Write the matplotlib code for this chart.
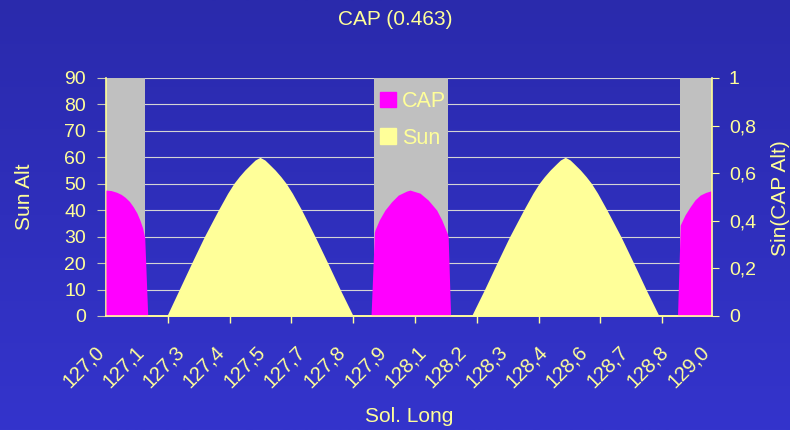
import numpy as np
import matplotlib.pyplot as plt
from matplotlib.patches import Patch
from matplotlib.colors import LinearSegmentedColormap
from matplotlib.transforms import ScaledTranslation

plt.rcParams['font.family'] = ['Liberation Sans', 'DejaVu Sans']

# 태양 고도 (Sun Alt) vs Sol. Long
sun_long = [127.000,
            127.201, 127.242, 127.283, 127.325, 127.371, 127.402, 127.423, 127.440, 127.459, 127.482, 127.493,
            127.509,
            127.525, 127.536, 127.559, 127.578, 127.595, 127.616, 127.647, 127.691, 127.733, 127.774, 127.817,
            128.208, 128.251, 128.292, 128.334, 128.380, 128.411, 128.432, 128.449, 128.468, 128.491, 128.502,
            128.518,
            128.534, 128.545, 128.568, 128.587, 128.604, 128.625, 128.656, 128.702, 128.744, 128.785, 128.828,
            129.003]
sun_alt = [0,
           0, 10, 20, 30, 40, 46.4, 50.2, 52.7, 55.2, 57.8, 59,
           60,
           59, 57.8, 55.2, 52.7, 50.2, 46.4, 40, 30, 20, 10, 0,
           0, 10, 20, 30, 40, 46.4, 50.2, 52.7, 55.2, 57.8, 59,
           60,
           59, 57.8, 55.2, 52.7, 50.2, 46.4, 40, 30, 20, 10, 0,
           0]

# CAP: sin(CAP 고도), 오른쪽 축
cap_long = [127.000, 127.017, 127.035, 127.050, 127.063, 127.077, 127.090, 127.102, 127.112, 127.121, 127.128, 127.138,
            127.876, 127.887, 127.889, 127.903, 127.922, 127.944, 127.966, 127.994, 128.005, 128.038, 128.065,
            128.093, 128.110, 128.128, 128.131, 128.139,
            128.889, 128.898, 128.914, 128.931, 128.947, 128.964, 128.982, 129.000, 129.003]
cap_sin = [0.529, 0.527, 0.520, 0.511, 0.499, 0.482, 0.459, 0.433, 0.403, 0.370, 0.329, 0.0,
           0.0, 0.350, 0.361, 0.403, 0.445, 0.480, 0.508, 0.525, 0.529, 0.516, 0.487,
           0.445, 0.403, 0.347, 0.333, 0.0,
           0.0, 0.382, 0.425, 0.459, 0.488, 0.508, 0.519, 0.526, 0.527]

# 어두운 구간 (회색 막대)
night_start = [127.000, 127.886, 128.898]
night_end = [127.129, 128.131, 129.003]

xtick_labels = ["127,0", "127,1", "127,3", "127,4", "127,5", "127,7", "127,8", "127,9",
                "128,1", "128,2", "128,3", "128,4", "128,6", "128,7", "128,8", "129,0"]
right_ticks = [0, 0.2, 0.4, 0.6, 0.8, 1.0]
right_labels = ["0", "0,2", "0,4", "0,6", "0,8", "1"]

TXT = '#FFFF99'
X_MIN, X_MAX = 127.0, 129.003
LABEL_STEP = 2 / 15
TICK_STEP = 0.2043

fig = plt.figure(figsize=(7.9, 4.3), dpi=100)

# 배경 그라데이션
bg = fig.add_axes([0, 0, 1, 1], zorder=-10)
grad = np.linspace(0, 1, 256).reshape(-1, 1)
bg.imshow(grad, aspect='auto', origin='upper', extent=[0, 1, 0, 1],
          cmap=LinearSegmentedColormap.from_list('bg', ['#2A2AAC', '#3434CC']))
bg.axis('off')

ax = fig.add_axes([106 / 790, 114 / 430, 606 / 790, 238 / 430])
ax.set_facecolor('none')
ax.set_xlim(X_MIN, X_MAX)
ax.set_ylim(0, 90)

ax.bar(night_start, 90, width=np.subtract(night_end, night_start), align='edge',
       color='#C0C0C0', linewidth=0, zorder=1)
ax.fill_between(sun_long, sun_alt, color='#FFFF99', linewidth=0, zorder=2)

ax.set_yticks(range(0, 91, 10))
ax.grid(axis='y', color='#D4D4D4', linewidth=0.8)
ax.set_axisbelow(True)

ax2 = ax.twinx()
ax2.set_ylim(0, 1)
ax2.fill_between(cap_long, cap_sin, color='#FF00FF', linewidth=0)
ax2.set_yticks(right_ticks)
ax2.set_yticklabels(right_labels)

for s in ['top', 'right']:
    ax.spines[s].set_visible(False)
for s in ['top', 'left']:
    ax2.spines[s].set_visible(False)
for a in (ax, ax2):
    for s in a.spines.values():
        s.set_color(TXT)
        s.set_linewidth(1.2)

ax.tick_params(axis='y', length=6.5, pad=7.9, labelsize=14, labelcolor=TXT, color='#C8C8B4')
ax2.tick_params(axis='y', length=5, pad=7.2, labelsize=14, labelcolor=TXT, color=TXT)

# x축: 라벨 위치와 눈금 위치가 다름
label_pos = [X_MIN + k * LABEL_STEP for k in range(len(xtick_labels))]
ax.set_xticks(label_pos)
ax.set_xticklabels(xtick_labels)
ax.set_xticks([X_MIN + m * TICK_STEP for m in range(10)], minor=True)
ax.tick_params(axis='x', which='major', length=0, pad=18.7, labelsize=14.5, labelcolor=TXT)
ax.tick_params(axis='x', which='minor', length=5, width=1, color=TXT)
shift = ScaledTranslation(-12 / 100, 0, fig.dpi_scale_trans)
for lab in ax.get_xticklabels():
    lab.set_rotation(45)
    lab.set_rotation_mode('anchor')
    lab.set_ha('right')
    lab.set_va('top')
    lab.set_transform(lab.get_transform() + shift)

fig.text(395 / 790, 1 - 25 / 430, 'CAP (0.463)', ha='center', va='baseline', fontsize=15, color=TXT)
fig.text(30 / 790, 1 - 197 / 430, 'Sun Alt', rotation=90, rotation_mode='anchor',
         ha='center', va='baseline', fontsize=15, color=TXT)
fig.text(786 / 790, 1 - 198 / 430, 'Sin(CAP Alt)', rotation=90, rotation_mode='anchor',
         ha='center', va='baseline', fontsize=15, color=TXT)
fig.text(409 / 790, 1 - 422.5 / 430, 'Sol. Long', ha='center', va='baseline', fontsize=15, color=TXT)

handles = [Patch(color='#FF00FF'), Patch(color='#FFFF99')]
fig.legend(handles, ['CAP', 'Sun'], loc='upper left', bbox_to_anchor=(380 / 790, 1 - 91 / 430),
           frameon=False, borderpad=0, borderaxespad=0, fontsize=15.5, labelcolor=TXT,
           handlelength=0.72, handleheight=0.72, handletextpad=0.3, labelspacing=0.72)

fig.savefig('out.png', dpi=100)
